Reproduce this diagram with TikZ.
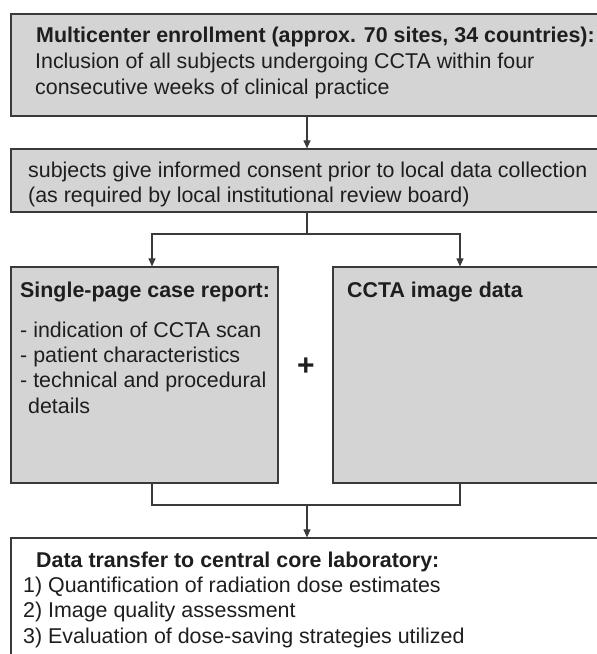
\documentclass[tikz,border=0pt]{standalone}
\usepackage{fontspec}
\setmainfont{Liberation Sans}
\usetikzlibrary{arrows.meta}
\definecolor{boxfill}{HTML}{D4D4D4}
\definecolor{edge}{HTML}{3A3A3A}
\definecolor{ink}{HTML}{1E1E1E}
\begin{document}
\begin{tikzpicture}[x=1pt,y=-1pt,
  box/.style={draw=edge,line width=1.2pt,fill=boxfill,rectangle,inner sep=0pt},
  wbox/.style={draw=edge,line width=1.2pt,fill=white,rectangle,inner sep=0pt},
  txt/.style={anchor=base west,inner sep=0pt,text=ink,font=\fontsize{21.4}{25}\selectfont},
  btxt/.style={txt,font=\fontsize{21.4}{25}\selectfont\bfseries},
  conn/.style={draw=edge,line width=1.1pt},
  arr/.style={conn,-{Triangle[length=8pt,width=7pt]}}]
\useasboundingbox (0,0) rectangle (597,654);
\clip (0,0) rectangle (597,654);
\fill[white] (0,0) rectangle (597,654);
% boxes
\node[box,minimum width=599pt,minimum height=102pt] (b1) at (310.5,65) {};
\node[box,minimum width=599pt,minimum height=63pt] (b2) at (310.5,180.5) {};
\node[box,minimum width=267pt,minimum height=216pt] (b3l) at (144.5,375) {};
\node[box,minimum width=277pt,minimum height=216pt] (b3r) at (471.5,375) {};
\node[wbox,minimum width=599pt,minimum height=133pt] (b4) at (310.5,604.5) {};
% helper coordinates
\coordinate (mid) at (307,0);
\coordinate (lx) at (152,0);
\coordinate (rx) at (460,0);
\coordinate (split) at (307,234);
\coordinate (join) at (307,505);
% connectors
\draw[arr] (b1.south -| mid) -- (b2.north -| mid);
\draw[conn] (b2.south -| mid) -- (split);
\draw[arr] (split) -| (b3l.north -| lx);
\draw[arr] (split) -| (b3r.north -| rx);
\draw[conn] (b3l.south -| lx) |- (join);
\draw[conn] (b3r.south -| rx) |- (join);
\draw[arr] (join) -- (b4.north -| mid);
% texts
\node[btxt] (t1a) at (36,42) {Multicenter enrollment (approx. 70 sites, 34 countries):};
\node[txt] (t1b) at (35,68) {Inclusion of all subjects undergoing CCTA within four};
\node[txt] (t1c) at (35,94) {consecutive weeks of clinical practice};
\node[txt] (t2a) at (28,177) {subjects give informed consent prior to local data collection};
\node[txt] (t2b) at (28,202) {(as required by local institutional review board)};
\node[btxt] (t3a) at (20,297) {Single-page case report:};
\node[txt] (t3b) at (20,337) {- indication of CCTA scan};
\node[txt] (t3c) at (20,362) {- patient characteristics};
\node[txt] (t3d) at (20,387) {- technical and procedural};
\node[txt] (t3e) at (28,413) {details};
\node[btxt] (t3f) at (347,297) {CCTA image data};
\node[inner sep=0pt,text=ink,font=\fontsize{30}{30}\selectfont\bfseries] (plus) at (306,367) {+};
\node[btxt] (t4a) at (36,567) {Data transfer to central core laboratory:};
\node[txt] (t4b) at (23,592) {1) Quantification of radiation dose estimates};
\node[txt] (t4c) at (23,617) {2) Image quality assessment};
\node[txt] (t4d) at (23,643) {3) Evaluation of dose-saving strategies utilized};
\end{tikzpicture}
\end{document}
